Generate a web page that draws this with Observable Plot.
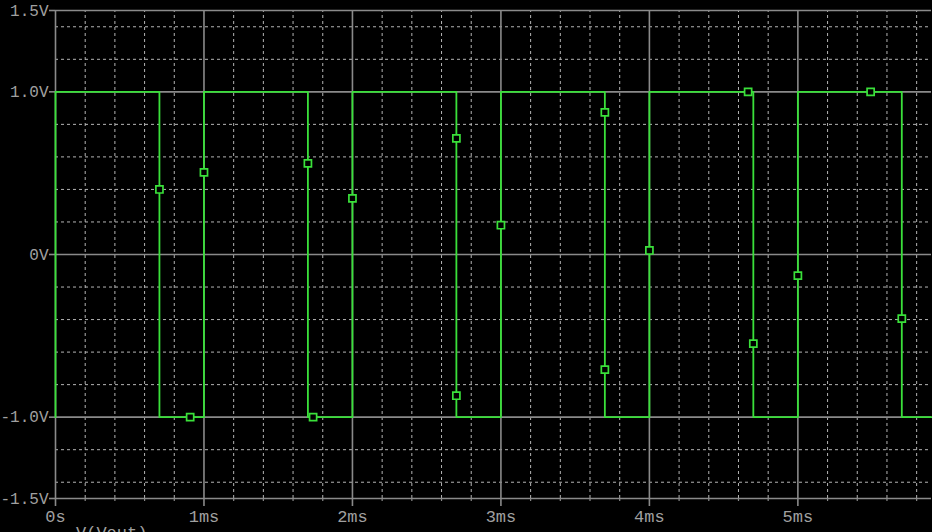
<!DOCTYPE html>
<html><head><meta charset="utf-8">
<script src="https://cdn.jsdelivr.net/npm/d3@7"></script>
<script src="https://cdn.jsdelivr.net/npm/@observablehq/plot@0.6"></script>
<style>
html,body{margin:0;padding:0;background:#000;overflow:hidden;width:932px;height:532px;}
#chart{position:relative;width:932px;height:532px;}
#chart svg{display:block;}
#caption{position:absolute;left:76px;top:524px;font-family:"Liberation Mono",monospace;font-size:17px;color:#a0a0a0;white-space:nowrap;}
</style></head><body><div id="chart"><div id="caption"></div></div>
<script>
// waveform samples (ms, V)
const waveTime  = [0, 0, 0.7, 0.7, 0.7, 0.907, 1.0, 1.0, 1.0, 1.7, 1.7, 1.7, 1.735, 2.0, 2.0, 2.0, 2.7, 2.7, 2.7, 2.7, 3.0, 3.0, 3.0, 3.7, 3.7, 3.7, 3.7, 4.0, 4.0, 4.0, 4.665, 4.7, 4.7, 4.7, 5.0, 5.0, 5.0, 5.49, 5.7, 5.7, 5.7, 5.9];
const waveValue = [-1, 1, 1, 0.40, -1, -1, -1, 0.505, 1, 1, 0.56, -1, -1, -1, 0.345, 1, 1, 0.714, -0.868, -1, -1, 0.18, 1, 1, 0.874, -0.708, -1, -1, 0.025, 1, 1, 1, -0.548, -1, -1, -0.13, 1, 1, 1, -0.394, -1, -1];
// marker samples (ms, V)
const markerTime  = [0.7, 0.907, 1.0, 1.7, 1.735, 2.0, 2.7, 2.7, 3.0, 3.7, 3.7, 4.0, 4.665, 4.7, 5.0, 5.49, 5.7];
const markerValue = [0.40, -1, 0.505, 0.56, -1, 0.345, 0.714, -0.868, 0.18, 0.874, -0.708, 0.025, 1, -0.548, -0.13, 1, -0.394];

const yMajorTicks = [-1.5, -1, 0, 1, 1.5];
const yTickLabels = ["-1.5V", "-1.0V", "0V", "1.0V", "1.5V"];
const yMinorTicks = [-1.4, -1.2, -0.8, -0.6, -0.4, -0.2, 0.2, 0.4, 0.6, 0.8, 1.2, 1.4];
const xMajorTicks = [0, 1, 2, 3, 4, 5];
const xTickLabels = ["0s", "1ms", "2ms", "3ms", "4ms", "5ms"];
const xMinorTicks = [0.2, 0.4, 0.6, 0.8, 1.2, 1.4, 1.6, 1.8, 2.2, 2.4, 2.6, 2.8, 3.2, 3.4, 3.6, 3.8, 4.2, 4.4, 4.6, 4.8, 5.2, 5.4, 5.6, 5.8];
const traceLabel = "V(Vout)";

const green = "#3ae03a";
const majorGray = "#8a8a8a";
const minorGray = "#b4b4b4";

const plot = Plot.plot({
  width: 932,
  height: 532,
  marginLeft: 55,
  marginRight: 1,
  marginTop: 10,
  marginBottom: 34,
  style: {background: "#000", color: "#a0a0a0", fontFamily: "Liberation Mono, monospace", fontSize: "17px"},
  x: {domain: [0, 5.9]},
  y: {domain: [-1.5, 1.5]},
  marks: [
    Plot.ruleY(yMinorTicks, {stroke: minorGray, strokeWidth: 1, strokeDasharray: "3,3"}),
    Plot.ruleX(xMinorTicks, {y1: -1.5, y2: 1.5, stroke: minorGray, strokeWidth: 1, strokeDasharray: "3,3"}),
    Plot.ruleY(yMajorTicks, {stroke: majorGray, strokeWidth: 1.6}),
    Plot.ruleX(xMajorTicks, {y1: -1.5, y2: 1.5, stroke: majorGray, strokeWidth: 1.6}),
    Plot.axisY({ticks: yMajorTicks, tickFormat: d => yTickLabels[yMajorTicks.indexOf(d)], tickSize: 6, tickPadding: 1, stroke: majorGray, strokeWidth: 1.6, fontSize: 16, label: null}),
    Plot.axisX({ticks: xMinorTicks, tickFormat: () => "", tickSize: 3, stroke: majorGray, strokeWidth: 1.2, label: null}),
    Plot.axisX({ticks: xMajorTicks, tickFormat: d => xTickLabels[xMajorTicks.indexOf(d)], tickSize: 8, tickPadding: 3, stroke: majorGray, strokeWidth: 1.6, label: null}),
    Plot.line(waveTime, {x: waveTime, y: waveValue, stroke: green, strokeWidth: 1.8}),
    Plot.dot(markerTime, {x: markerTime, y: markerValue, symbol: "square", r: 4, stroke: green, strokeWidth: 1.7, fill: "#000"})
  ]
});
const chart = document.getElementById("chart");
chart.insertBefore(plot, chart.firstChild);
document.getElementById("caption").textContent = traceLabel;
</script>
</body></html>
